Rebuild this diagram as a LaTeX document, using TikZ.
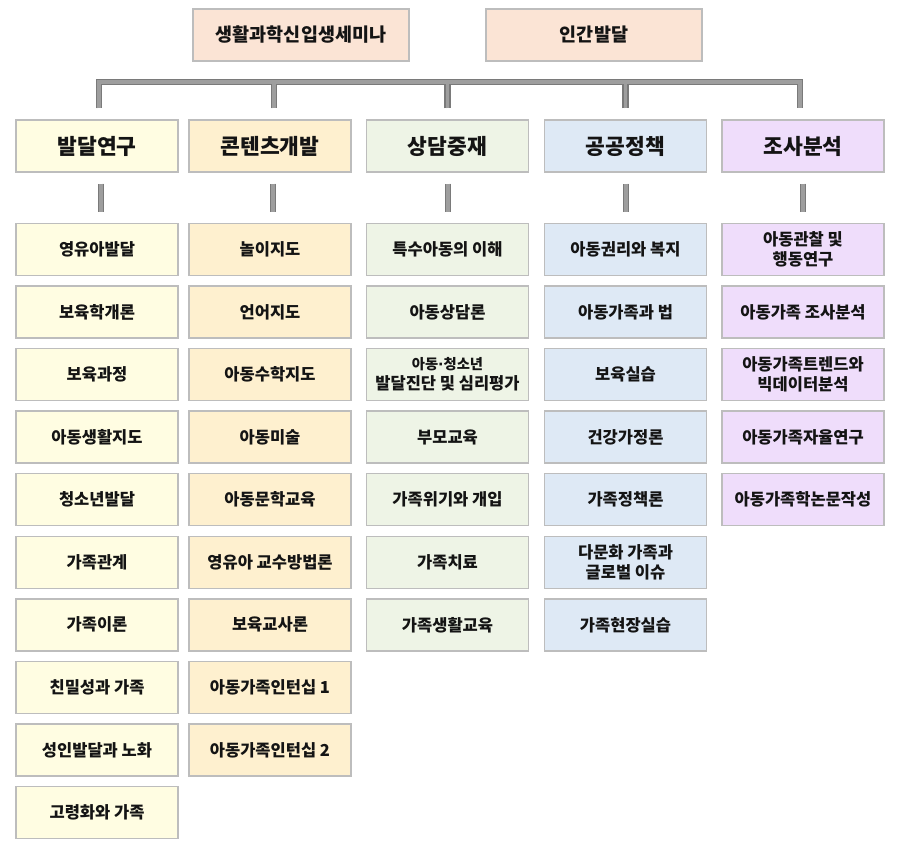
\documentclass[tikz,border=0pt]{standalone}
\usepackage{fontspec}
\setmainfont{Noto Sans CJK KR}
\newfontfamily\dvfont{DejaVu Sans}
\usetikzlibrary{calc}
\definecolor{topfill}{HTML}{FBE4D5}
\definecolor{cafill}{HTML}{FFFDE2}
\definecolor{cbfill}{HTML}{FEF0CF}
\definecolor{ccfill}{HTML}{EEF4E6}
\definecolor{cdfill}{HTML}{DEE9F5}
\definecolor{cefill}{HTML}{EFDDFB}
\definecolor{boxline}{HTML}{BDBDBD}
\definecolor{txt}{HTML}{141414}
\definecolor{barout}{HTML}{7A7A7A}
\definecolor{barin}{HTML}{9E9E9E}
\newcommand{\mdot}{{\dvfont\bfseries ·}}
\tikzset{
  base/.style={draw=boxline, line width=1.4pt, minimum width=162pt, minimum height=52pt,
    inner sep=0pt, align=center, text=txt, font=\bfseries\fontsize{16.5}{20}\selectfont},
  topbox/.style={base, fill=topfill, minimum width=216pt, font=\bfseries\fontsize{18.5}{22}\selectfont},
  headbox/.style={base, font=\bfseries\fontsize{21.5}{25}\selectfont},
  ca/.style={base, fill=cafill},
  cb/.style={base, fill=cbfill},
  cc/.style={base, fill=ccfill},
  cd/.style={base, fill=cdfill},
  ce/.style={base, fill=cefill},
  barline/.style={line width=3.6pt, draw=barin, line cap=butt,
    preaction={draw=barout, line width=6.2pt}},
  stub/.style={line width=4.4pt, draw=barin, preaction={draw=barout, line width=5.6pt}},
}
\begin{document}
\begin{tikzpicture}[x=1pt, y=-1pt]
\useasboundingbox[fill=white] (0,0) rectangle (899,850);
% top boxes
\node[topbox] (t1) at (301,35) {생활과학신입생세미나};
\node[topbox] (t2) at (594,35) {인간발달};
% headers
\node[headbox, fill=cafill] (h1) at (97,146) {발달연구};
\node[headbox, fill=cbfill] (h2) at (270,146) {콘텐츠개발};
\node[headbox, fill=ccfill] (h3) at (447.5,146) {상담중재};
\node[headbox, fill=cdfill] (h4) at (625.5,146) {공공정책};
\node[headbox, fill=cefill] (h5) at (803,146) {조사분석};
% items
\foreach \t [count=\i] in {영유아발달, 보육학개론, 보육과정, 아동생활지도, 청소년발달, 가족관계, 가족이론, 친밀성과 가족, 성인발달과 노화, 고령화와 가족}
  \node[ca] (a\i) at (97,{249.5+62.55*(\i-1)}) {\t};
\foreach \t [count=\i] in {놀이지도, 언어지도, 아동수학지도, 아동미술, 아동문학교육, 영유아 교수방법론, 보육교사론, 아동가족인턴십 1, 아동가족인턴십 2}
  \node[cb] (b\i) at (270,{249.5+62.55*(\i-1)}) {\t};
\foreach \t [count=\i] in {특수아동의 이해, 아동상담론, {\fontsize{14.3}{18}\selectfont 아동\mdot 청소년\\발달진단 및 심리평가}, 부모교육, 가족위기와 개입, 가족치료, 가족생활교육}
  \node[cc] (c\i) at (447.5,{249.5+62.55*(\i-1)}) {\t};
\foreach \t [count=\i] in {아동권리와 복지, 아동가족과 법, 보육실습, 건강가정론, 가족정책론, {다문화 가족과\\글로벌 이슈}, 가족현장실습}
  \node[cd] (d\i) at (625.5,{249.5+62.55*(\i-1)}) {\t};
\foreach \t [count=\i] in {{아동관찰 및\\행동연구}, 아동가족 조사분석, {아동가족트렌드와\\빅데이터분석}, 아동가족자율연구, 아동가족학논문작성}
  \node[ce] (e\i) at (803,{249.5+62.55*(\i-1)}) {\t};
% bar connector
\coordinate (j1) at ($(h1.north)+(2,-11)$);
\coordinate (j2) at ($(h2.north)+(4,-11)$);
\coordinate (j3) at ($(h3.north)+(0,-11)$);
\coordinate (j4) at ($(h4.north)+(0,-11)$);
\coordinate (j5) at ($(h5.north)+(-3,-11)$);
\draw[barline] (j1) -- (j1 |- 0,82) -- (j5 |- 0,82) -- (j5)
  (j2) -- (j2 |- 0,82) (j3) -- (j3 |- 0,82) (j4) -- (j4 |- 0,82);
% stubs under headers
\draw[stub] ($(h1.south)+(4,11)$) -- ($(a1.north)+(4,-11)$);
\draw[stub] ($(h2.south)+(3,11)$) -- ($(b1.north)+(3,-11)$);
\draw[stub] ($(h3.south)+(0.5,11)$) -- ($(c1.north)+(0.5,-11)$);
\draw[stub] ($(h4.south)+(0.5,11)$) -- ($(d1.north)+(0.5,-11)$);
\draw[stub] ($(h5.south)+(0,11)$) -- ($(e1.north)+(0,-11)$);
\end{tikzpicture}
\end{document}
